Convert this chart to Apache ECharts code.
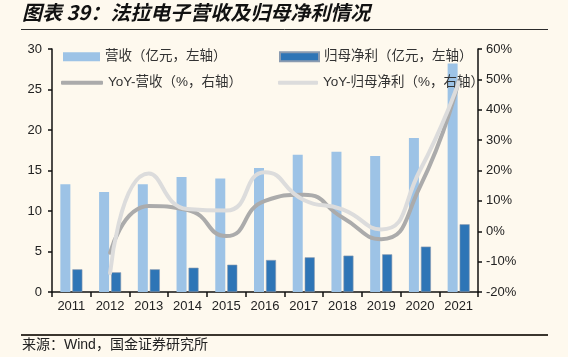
<!DOCTYPE html>
<html><head><meta charset="utf-8">
<script src="https://cdn.jsdelivr.net/npm/echarts@6/dist/echarts.min.js"></script>
<style>html,body{margin:0;padding:0;background:#FEF9EE;}#c{width:568px;height:357px;}</style>
</head><body><div id="c"></div>
<script>
const years = ['2011','2012','2013','2014','2015','2016','2017','2018','2019','2020','2021'];
const revenue = [13.3, 12.35, 13.3, 14.2, 14.0, 15.3, 16.95, 17.3, 16.8, 19.0, 28.2];
const netProfit = [2.8, 2.43, 2.8, 3.0, 3.37, 3.95, 4.28, 4.49, 4.65, 5.6, 8.36];
const yoyRevenue = [null, -7.1, 8.3, 7.0, -1.6, 10.0, 12.0, 4.5, -2.6, 14.6, 49.5];
const yoyProfit = [null, -13.8, 19.0, 7.3, 6.8, 19.4, 10.3, 7.2, 0.6, 20.0, 49.0];
const leftTicks = [0, 5, 10, 15, 20, 25, 30];
const rightTicks = [-20, -10, 0, 10, 20, 30, 40, 50, 60];
const names = ['营收（亿元，左轴）','归母净利（亿元，左轴）','YoY-营收（%，右轴）','YoY-归母净利（%，右轴）'];
const titleText = '图表 39：法拉电子营收及归母净利情况';
const sourceText = '来源：Wind，国金证券研究所';

const cjk = '"Liberation Sans", "Noto Sans CJK SC", sans-serif';
const legendText = {fontSize: 13.5, color: '#333', fontFamily: cjk};
function lg(name, left, top, icon, w, h) {
  return {data: [name], left: left, top: top, icon: icon, itemWidth: w, itemHeight: h,
    textStyle: legendText, itemGap: 4, selectedMode: false, padding: 0};
}
const chart = echarts.init(document.getElementById('c'), null, {renderer: 'canvas'});
chart.setOption({
  backgroundColor: '#FEF9EE',
  animation: false,
  graphic: [
    {type: 'text', left: 22, top: 2, style: {text: titleText, fill: '#111', font: 'italic bold 20px "Noto Sans CJK SC", sans-serif'}},
    {type: 'line', shape: {x1: 21, y1: 29.5, x2: 548, y2: 29.5}, style: {stroke: '#2b2b2b', lineWidth: 1}},
    {type: 'line', shape: {x1: 21, y1: 335, x2: 548, y2: 335}, style: {stroke: '#3b362e', lineWidth: 2}},
    {type: 'text', left: 22, top: 338, style: {text: sourceText, fill: '#222', font: '14px "Liberation Sans", "Noto Sans CJK SC", sans-serif'}}
  ],
  legend: [
    lg(names[0], 63, 50, 'rect', 37, 9),
    lg(names[1], 279, 50, 'rect', 39, 9),
    lg(names[2], 61, 76, 'roundRect', 42, 4),
    lg(names[3], 278, 76, 'roundRect', 40, 4)
  ],
  grid: {left: 52, right: 90, top: 49, bottom: 65},
  xAxis: {
    type: 'category', data: years, boundaryGap: true,
    axisLine: {lineStyle: {color: '#111', width: 1.5}},
    axisTick: {show: true, length: 5, lineStyle: {color: '#111', width: 1.5}},
    axisLabel: {color: '#222', fontSize: 13, fontFamily: '"Liberation Sans", Arial, sans-serif', margin: 8}
  },
  yAxis: [
    {type: 'value', min: leftTicks[0], max: leftTicks[leftTicks.length-1], interval: 5,
      axisLine: {show: true, lineStyle: {color: '#111', width: 1.5}},
      axisTick: {show: true, inside: false, length: 4, lineStyle: {color: '#111', width: 1.5}},
      splitLine: {show: false},
      axisLabel: {color: '#222', fontSize: 13, fontFamily: '"Liberation Sans", Arial, sans-serif', margin: 10}},
    {type: 'value', min: rightTicks[0], max: rightTicks[rightTicks.length-1], interval: 10, position: 'right',
      axisLine: {show: true, lineStyle: {color: '#111', width: 1.5}},
      axisTick: {show: true, inside: false, length: 4, lineStyle: {color: '#111', width: 1.5}},
      splitLine: {show: false},
      axisLabel: {color: '#222', fontSize: 13, fontFamily: '"Liberation Sans", Arial, sans-serif', margin: 8, formatter: '{value}%'}}
  ],
  series: [
    {name: names[0], type: 'bar', data: revenue, barWidth: 10, barGap: '20%', yAxisIndex: 0,
      itemStyle: {color: '#9DC3E6'}},
    {name: names[1], type: 'bar', data: netProfit, barWidth: 10, yAxisIndex: 0,
      itemStyle: {color: '#2E75B6', borderColor: '#8a9bb0', borderWidth: 0.6}},
    {name: names[2], type: 'line', data: yoyRevenue, yAxisIndex: 1, smooth: 0.55, showSymbol: false, symbol: 'none',
      color: '#ABABAB', lineStyle: {color: '#ABABAB', width: 4, cap: 'round'}, itemStyle: {color: '#ABABAB'}, z: 3},
    {name: names[3], type: 'line', data: yoyProfit, yAxisIndex: 1, smooth: 0.55, showSymbol: false, symbol: 'none',
      color: '#DCDCDC', lineStyle: {color: '#DCDCDC', width: 4, cap: 'round'}, itemStyle: {color: '#DCDCDC'}, z: 4}
  ]
});
</script></body></html>
